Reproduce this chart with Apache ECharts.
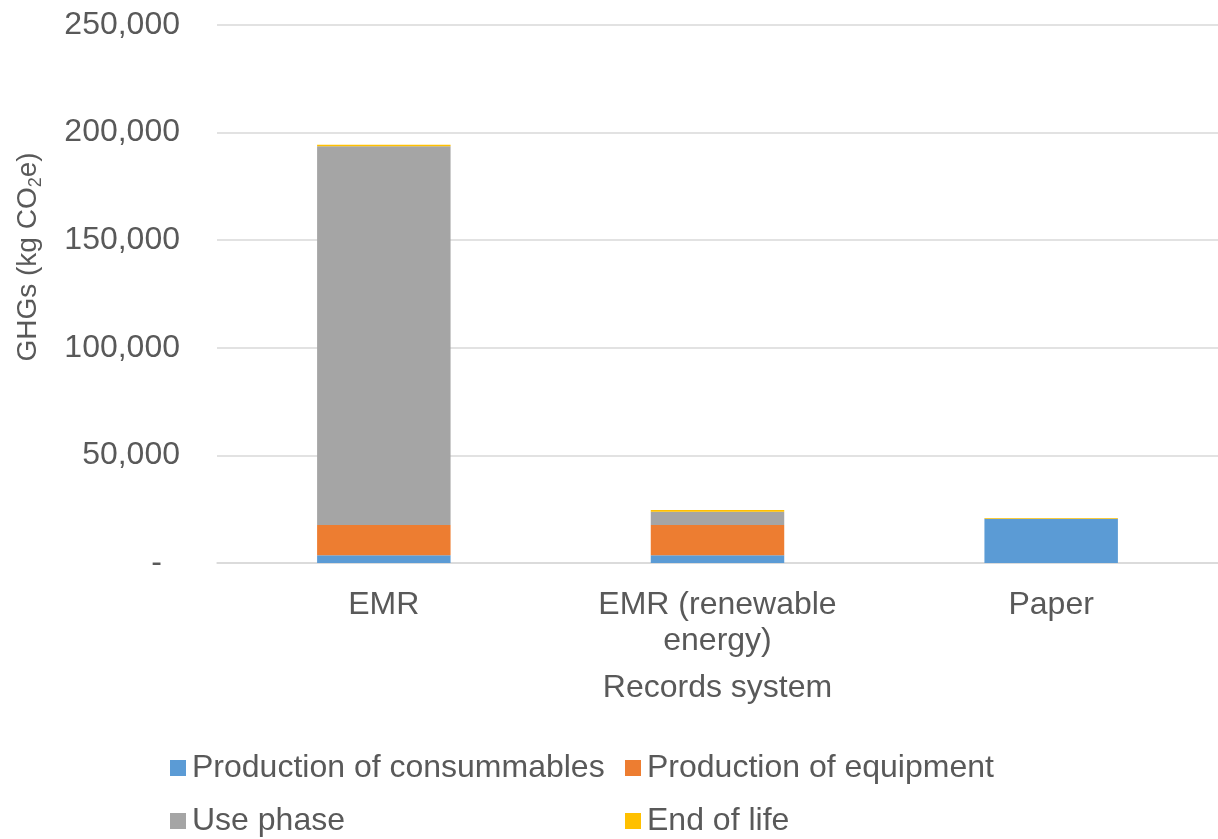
<!DOCTYPE html>
<html>
<head>
<meta charset="utf-8">
<title>GHG emissions by records system</title>
<script src="https://cdn.jsdelivr.net/npm/echarts@6/dist/echarts.min.js"></script>
<style>
  html, body { margin: 0; padding: 0; background: #ffffff; }
  #chart { width: 1218px; height: 839px; }
</style>
</head>
<body>
<div id="chart"></div>
<script>
// Records systems compared
const categories = ['EMR', 'EMR (renewable\nenergy)', 'Paper'];

// Life-cycle stages, kg CO2e
const consumables = [3600, 3600, 20600];
const equipment = [14000, 14000, 0];
const usePhase = [176000, 6200, 0];
const endOfLife = [700, 800, 300];

const seriesNames = ['Production of consummables', 'Production of equipment', 'Use phase', 'End of life'];
const seriesColors = ['#5b9bd5', '#ed7d31', '#a5a5a5', '#ffc000'];
const seriesValues = [consumables, equipment, usePhase, endOfLife];

const yTicks = { min: 0, max: 250000, interval: 50000 };

const textColor = '#595959';
const fontFamily = '"Liberation Sans", Arial, sans-serif';
const fontSize = 32;

const chart = echarts.init(document.getElementById('chart'));

function fmt(v) {
  if (v === 0) return '{z|-}';
  return v.toLocaleString('en-US');
}

// one legend block per entry so the two rows line up in columns
const legendSpots = [
  { left: 170, top: 752 },
  { left: 625, top: 752 },
  { left: 170, top: 805 },
  { left: 625, top: 805 }
];

const legends = seriesNames.map((name, i) => ({
  data: [name],
  left: legendSpots[i].left,
  top: legendSpots[i].top,
  icon: 'rect',
  itemWidth: 16,
  itemHeight: 16,
  itemGap: 0,
  padding: 0,
  textStyle: { color: textColor, fontSize: fontSize, fontFamily: fontFamily, padding: [0, 0, 0, 1] }
}));

chart.setOption({
  animation: false,
  backgroundColor: '#ffffff',
  grid: { left: 217, top: 25, width: 1004, height: 538, containLabel: false },
  legend: legends,
  xAxis: {
    type: 'category',
    data: categories,
    name: 'Records system',
    nameLocation: 'middle',
    nameGap: 109,
    nameTextStyle: { color: textColor, fontSize: fontSize, fontFamily: fontFamily },
    axisLine: { lineStyle: { color: '#d9d9d9', width: 1.5 } },
    axisTick: { show: false },
    axisLabel: {
      color: textColor, fontSize: fontSize, fontFamily: fontFamily,
      margin: 24, lineHeight: 36, interval: 0
    }
  },
  yAxis: {
    type: 'value',
    min: yTicks.min,
    max: yTicks.max,
    interval: yTicks.interval,
    axisLine: { show: false },
    axisTick: { show: false },
    splitLine: { lineStyle: { color: '#d9d9d9', width: 1.5 } },
    axisLabel: {
      color: textColor, fontSize: fontSize, fontFamily: fontFamily, margin: 37,
      formatter: fmt,
      rich: { z: { color: textColor, fontSize: fontSize, fontFamily: fontFamily, padding: [0, 18, 0, 0] } }
    }
  },
  graphic: [{
    type: 'text',
    x: 28,
    y: 257,
    rotation: Math.PI / 2,
    style: {
      text: '{a|GHGs (kg CO}{s|2}{a|e)}',
      align: 'center',
      verticalAlign: 'middle',
      rich: {
        a: { fill: textColor, fontSize: 28, fontFamily: fontFamily, lineHeight: 34, verticalAlign: 'middle' },
        s: { fill: textColor, fontSize: 18, fontFamily: fontFamily, lineHeight: 34, verticalAlign: 'bottom', padding: [12, 0, 0, 0] }
      }
    }
  }],
  series: seriesNames.map((name, i) => ({
    name: name,
    type: 'bar',
    stack: 'total',
    barWidth: '40%',
    data: seriesValues[i],
    itemStyle: { color: seriesColors[i] },
    emphasis: { disabled: true }
  }))
});
</script>
</body>
</html>
